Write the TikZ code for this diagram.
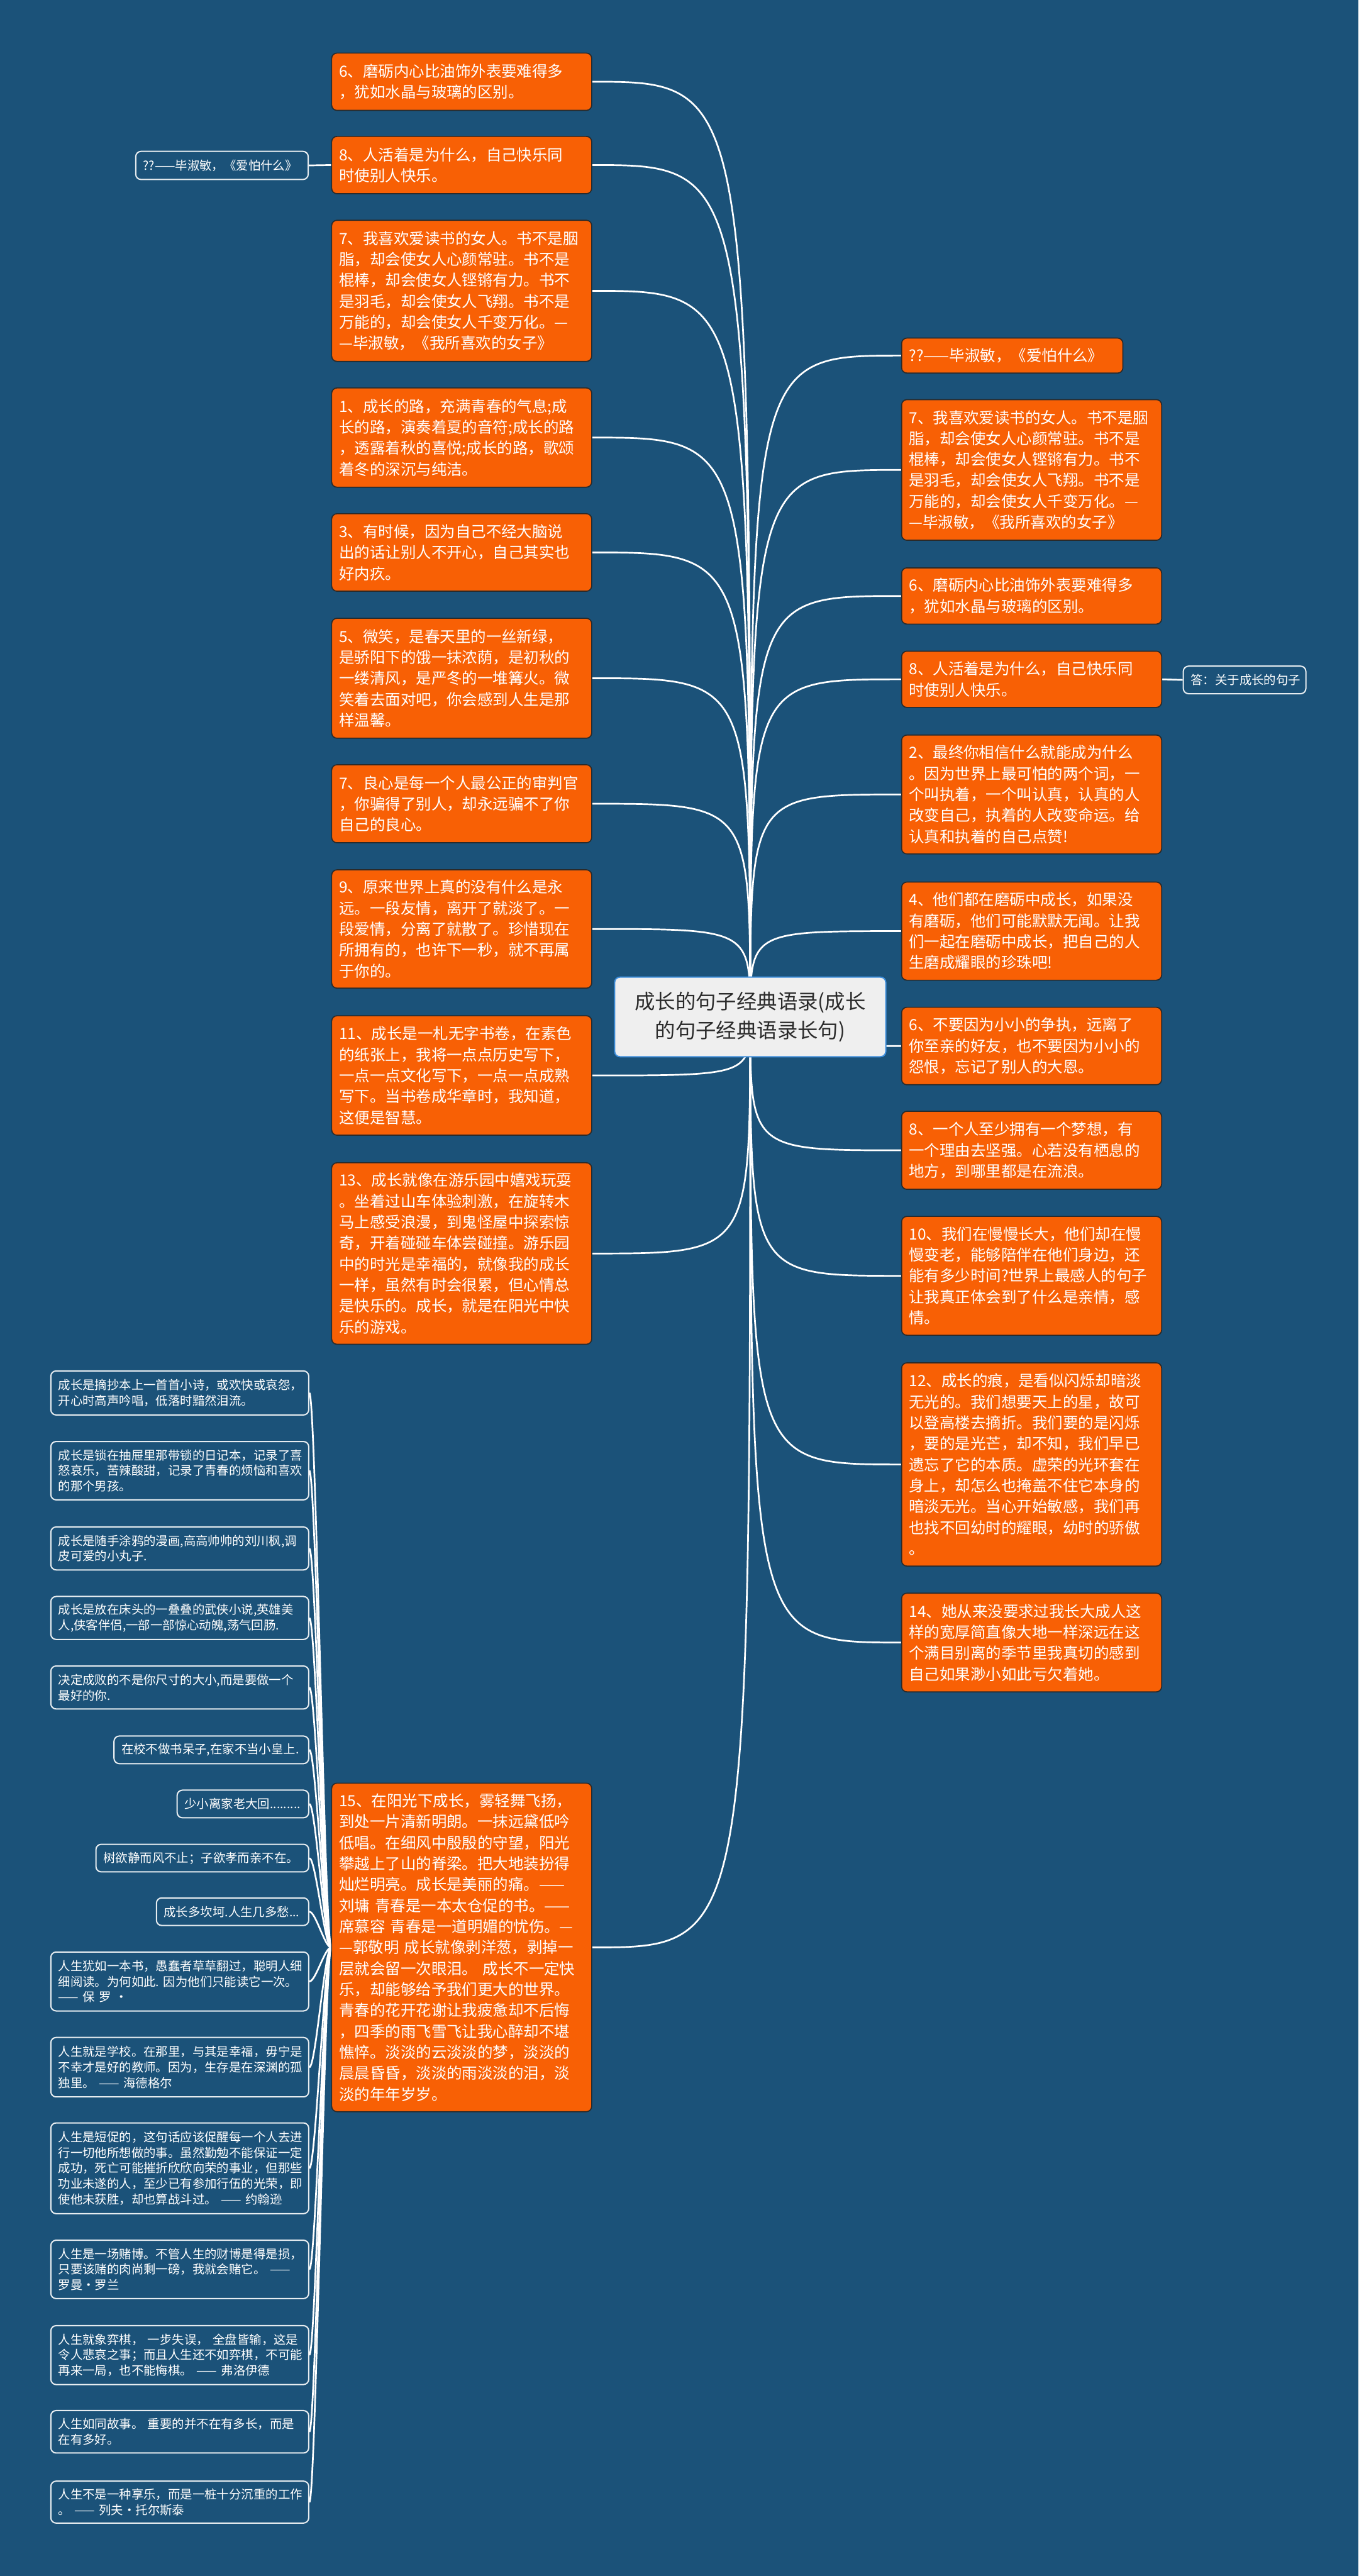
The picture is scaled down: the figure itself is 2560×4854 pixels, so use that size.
\documentclass[tikz,border=0pt]{standalone}
\usepackage{fontspec}
\setmainfont{Noto Sans CJK SC}
\usetikzlibrary{calc}
\definecolor{bgblue}{HTML}{1B5279}
\definecolor{orng}{HTML}{F86005}
\definecolor{oborder}{HTML}{2A2A2A}
\definecolor{sborder}{HTML}{E6ECF0}
\definecolor{rootfill}{HTML}{EFEFEF}
\definecolor{rootborder}{HTML}{3E8EDB}
\definecolor{roottext}{HTML}{2B2B2B}
\pgfdeclarelayer{bg}\pgfdeclarelayer{edges}\pgfsetlayers{bg,edges,main}
\tikzset{
 obox/.style={draw=oborder, line width=0.5pt, fill=orng, rounded corners=2.5pt, anchor=north west, inner xsep=3.5pt, inner ysep=0pt, align=left, text=white, font=\fontsize{7.25pt}{9.875pt}\selectfont},
 smallbox/.style={draw=sborder, line width=0.6pt, fill=bgblue, rounded corners=2.5pt, anchor=north east, inner xsep=3.5pt, inner ysep=0pt, align=left, text=white, font=\fontsize{5.75pt}{7.35pt}\selectfont},
 rootbox/.style={draw=rootborder, line width=0.6pt, fill=rootfill, rounded corners=2.5pt, anchor=north west, align=center, text=roottext, font=\fontsize{9.6pt}{13.4pt}\selectfont, minimum width=127.75pt, minimum height=37.5pt, inner sep=0pt},
 conn/.style={draw=white, line width=0.8pt}
}
\newcommand\mkO[6]{\pgfmathsetmacro\mytw{(#4-28)*0.25}\pgfmathsetmacro\myth{#5*0.25}\node[obox, text width=\mytw pt, minimum height=\myth pt] (#1) at (#2,#3) {#6};}
\newcommand\mkS[6]{\pgfmathsetmacro\mytw{(#4-28)*0.25}\pgfmathsetmacro\myth{#5*0.25}\node[smallbox, text width=\mytw pt, minimum height=\myth pt] (#1) at (#2,#3) {#6};}
\begin{document}
\begin{tikzpicture}[x=0.25pt, y=-0.25pt]
\begin{pgfonlayer}{bg}
\fill[bgblue] (0,0) rectangle (2560,4854);
\end{pgfonlayer}

% root
\node[rootbox] (root) at (1157,1840) {成长的句子经典语录(成长\\的句子经典语录长句)};

% left orange column
\mkO{L6}{624}{99}{490}{108}{6、磨砺内心比油饰外表要难得多\\，犹如水晶与玻璃的区别。}
\mkO{L8}{624}{256}{490}{108}{8、人活着是为什么，自己快乐同\\时使别人快乐。}
\mkO{L7}{624}{414}{490}{266}{7、我喜欢爱读书的女人。书不是胭\\脂，却会使女人心颜常驻。书不是\\棍棒，却会使女人铿锵有力。书不\\是羽毛，却会使女人飞翔。书不是\\万能的，却会使女人千变万化。—\\—毕淑敏，《我所喜欢的女子》}
\mkO{L1}{624}{730}{490}{187}{1、成长的路，充满青春的气息;成\\长的路，演奏着夏的音符;成长的路\\，透露着秋的喜悦;成长的路，歌颂\\着冬的深沉与纯洁。}
\mkO{L3}{624}{967}{490}{146}{3、有时候，因为自己不经大脑说\\出的话让别人不开心，自己其实也\\好内疚。}
\mkO{L5}{624}{1164}{490}{226}{5、微笑，是春天里的一丝新绿，\\是骄阳下的饿一抹浓荫，是初秋的\\一缕清风，是严冬的一堆篝火。微\\笑着去面对吧，你会感到人生是那\\样温馨。}
\mkO{L7b}{624}{1440}{490}{147}{7、良心是每一个人最公正的审判官\\，你骗得了别人，却永远骗不了你\\自己的良心。}
\mkO{L9}{624}{1638}{490}{223}{9、原来世界上真的没有什么是永\\远。一段友情，离开了就淡了。一\\段爱情，分离了就散了。珍惜现在\\所拥有的，也许下一秒，就不再属\\于你的。}
\mkO{L11}{624}{1913}{490}{225}{11、成长是一札无字书卷，在素色\\的纸张上，我将一点点历史写下，\\一点一点文化写下，一点一点成熟\\写下。当书卷成华章时，我知道，\\这便是智慧。}
\mkO{L13}{624}{2190}{490}{342}{13、成长就像在游乐园中嬉戏玩耍\\。坐着过山车体验刺激，在旋转木\\马上感受浪漫，到鬼怪屋中探索惊\\奇，开着碰碰车体尝碰撞。游乐园\\中的时光是幸福的，就像我的成长\\一样，虽然有时会很累，但心情总\\是快乐的。成长，就是在阳光中快\\乐的游戏。}
\mkO{L15}{624}{3359}{490}{619}{15、在阳光下成长，雾轻舞飞扬，\\到处一片清新明朗。一抹远黛低吟\\低唱。在细风中殷殷的守望，阳光\\攀越上了山的脊梁。把大地装扮得\\灿烂明亮。成长是美丽的痛。——\\刘墉~青春是一本太仓促的书。——\\席慕容~青春是一道明媚的忧伤。—\\—郭敬明~成长就像剥洋葱，剥掉一\\层就会留一次眼泪。~成长不一定快\\乐，却能够给予我们更大的世界。\\青春的花开花谢让我疲惫却不后悔\\，四季的雨飞雪飞让我心醉却不堪\\憔悴。淡淡的云淡淡的梦，淡淡的\\晨晨昏昏，淡淡的雨淡淡的泪，淡\\淡的年年岁岁。}

% right orange column
\mkO{R0}{1698}{636}{417}{66}{??——毕淑敏，《爱怕什么》}
\mkO{R7}{1698}{752}{490}{265}{7、我喜欢爱读书的女人。书不是胭\\脂，却会使女人心颜常驻。书不是\\棍棒，却会使女人铿锵有力。书不\\是羽毛，却会使女人飞翔。书不是\\万能的，却会使女人千变万化。—\\—毕淑敏，《我所喜欢的女子》}
\mkO{R6}{1698}{1069}{490}{106}{6、磨砺内心比油饰外表要难得多\\，犹如水晶与玻璃的区别。}
\mkO{R8}{1698}{1226}{490}{106}{8、人活着是为什么，自己快乐同\\时使别人快乐。}
\mkO{R2}{1698}{1384}{490}{224}{2、最终你相信什么就能成为什么\\。因为世界上最可怕的两个词，一\\个叫执着，一个叫认真，认真的人\\改变自己，执着的人改变命运。给\\认真和执着的自己点赞!}
\mkO{R4}{1698}{1661}{490}{185}{4、他们都在磨砺中成长，如果没\\有磨砺，他们可能默默无闻。让我\\们一起在磨砺中成长，把自己的人\\生磨成耀眼的珍珠吧!}
\mkO{R6b}{1698}{1897}{490}{146}{6、不要因为小小的争执，远离了\\你至亲的好友，也不要因为小小的\\怨恨，忘记了别人的大恩。}
\mkO{R8b}{1698}{2093}{490}{147}{8、一个人至少拥有一个梦想，有\\一个理由去坚强。心若没有栖息的\\地方，到哪里都是在流浪。}
\mkO{R10}{1698}{2291}{490}{224}{10、我们在慢慢长大，他们却在慢\\慢变老，能够陪伴在他们身边，还\\能有多少时间?世界上最感人的句子\\让我真正体会到了什么是亲情，感\\情。}
\mkO{R12}{1698}{2567}{490}{383}{12、成长的痕，是看似闪烁却暗淡\\无光的。我们想要天上的星，故可\\以登高楼去摘折。我们要的是闪烁\\，要的是光芒，却不知，我们早已\\遗忘了它的本质。虚荣的光环套在\\身上，却怎么也掩盖不住它本身的\\暗淡无光。当心开始敏感，我们再\\也找不回幼时的耀眼，幼时的骄傲\\。}
\mkO{R14}{1698}{3001}{490}{186}{14、她从来没要求过我长大成人这\\样的宽厚简直像大地一样深远在这\\个满目别离的季节里我真切的感到\\自己如果渺小如此亏欠着她。}

% outlined side nodes
\mkS{QL}{582}{284}{325}{53}{??——毕淑敏，《爱怕什么》}
\mkS{DA}{2462}{1254}{231}{52}{答：关于成长的句子}

% small nodes left of node 15
\mkS{Sa}{583}{2582}{486}{83}{成长是摘抄本上一首首小诗，或欢快或哀怨，\\开心时高声吟唱，低落时黯然泪流。}
\mkS{Sb}{583}{2715}{486}{110}{成长是锁在抽屉里那带锁的日记本，记录了喜\\怒哀乐，苦辣酸甜，记录了青春的烦恼和喜欢\\的那个男孩。}
\mkS{Sc}{583}{2876}{486}{81}{成长是随手涂鸦的漫画,高高帅帅的刘川枫,调\\皮可爱的小丸子.}
\mkS{Sd}{583}{3007}{486}{81}{成长是放在床头的一叠叠的武侠小说,英雄美\\人,侠客伴侣,一部一部惊心动魄,荡气回肠.}
\mkS{Se}{583}{3138}{486}{81}{决定成败的不是你尺寸的大小,而是要做一个\\最好的你.}
\mkS{Sf}{583}{3270}{367}{52}{在校不做书呆子,在家不当小皇上.}
\mkS{Sg}{583}{3372}{248}{52}{少小离家老大回.........}
\mkS{Sh}{583}{3474}{401}{52}{树欲静而风不止；子欲孝而亲不在。}
\mkS{Si}{583}{3575}{287}{52}{成长多坎坷.人生几多愁...}
\mkS{Sj}{583}{3677}{486}{111}{人生犹如一本书，愚蠢者草草翻过，聪明人细\\细阅读。为何如此.~因为他们只能读它一次。\\——~保~罗~·}
\mkS{Sk}{583}{3838}{486}{112}{人生就是学校。在那里，与其是幸福，毋宁是\\不幸才是好的教师。因为，生存是在深渊的孤\\独里。~——~海德格尔}
\mkS{Sl}{583}{3999}{486}{171}{人生是短促的，这句话应该促醒每一个人去进\\行一切他所想做的事。虽然勤勉不能保证一定\\成功，死亡可能摧折欣欣向荣的事业，但那些\\功业未遂的人，至少已有参加行伍的光荣，即\\使他未获胜，却也算战斗过。~——~约翰逊}
\mkS{Sm}{583}{4220}{486}{110}{人生是一场赌博。不管人生的财博是得是损，\\只要该赌的肉尚剩一磅，我就会赌它。~——\\罗曼·罗兰}
\mkS{Sn}{583}{4381}{486}{111}{人生就象弈棋，~一步失误，~全盘皆输，这是\\令人悲哀之事；而且人生还不如弈棋，不可能\\再来一局，也不能悔棋。~——~弗洛伊德}
\mkS{So}{583}{4541}{486}{80}{人生如同故事。~重要的并不在有多长，而是\\在有多好。}
\mkS{Sp}{583}{4674}{486}{79}{人生不是一种享乐，而是一桩十分沉重的工作\\。~——~列夫·托尔斯泰}

% connectors
\begin{pgfonlayer}{edges}
\foreach \c in {L6,L8,L7,L1,L3,L5,L7b,L9,L11,L13,L15}
  \draw[conn] (root.center) .. controls (root.center |- \c.east) .. (\c.east);
\foreach \c in {R0,R7,R6,R8,R2,R4,R6b,R8b,R10,R12,R14}
  \draw[conn] (root.center) .. controls (root.center |- \c.west) .. (\c.west);
\foreach \s in {Sa,Sb,Sc,Sd,Se,Sf,Sg,Sh,Si,Sj,Sk,Sl,Sm,Sn,So,Sp}
  \draw[conn] (\s.east) .. controls +(12,0) and +(-12,0) .. (L15.west);
\draw[conn] (QL.east) -- (L8.west);
\draw[conn] (R8.east) -- (DA.west);
\end{pgfonlayer}
\end{tikzpicture}
\end{document}
